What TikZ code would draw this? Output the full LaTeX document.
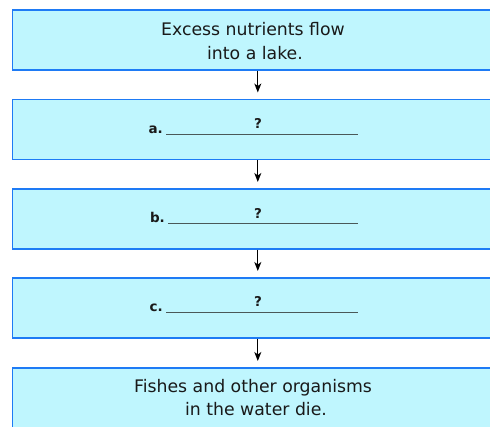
\documentclass[tikz,border=0pt]{standalone}
\usepackage{fontspec}
\setmainfont{DejaVu Sans}
\usetikzlibrary{arrows.meta}
\definecolor{boxfill}{HTML}{BFF6FE}
\definecolor{boxline}{HTML}{1E7BF5}
\definecolor{blankline}{HTML}{4A5858}
\begin{document}
\begin{tikzpicture}[x=1pt,y=-1pt,
  box/.style={draw=boxline, line width=1.6pt, fill=boxfill, minimum width=486pt, minimum height=60pt, inner sep=0pt, anchor=north west},
  txt/.style={font=\fontsize{17.3}{23}\selectfont, anchor=base, inner sep=0pt, text=black!90},
  lbl/.style={font=\fontsize{13.5}{15}\selectfont\bfseries, inner sep=0pt, text=black!90},
  blank/.style={draw=blankline, line width=1.1pt},
  arr/.style={-{Stealth[length=9pt,width=7pt,inset=2.5pt]}, line width=1.1pt, shorten >=6pt}]
\useasboundingbox (0,0) rectangle (490,426);
\clip (0,0) rectangle (490,426);
\node[box] (b1) at (11.5,9) {};
\node[box] (b2) at (11.5,98.5) {};
\node[box] (b3) at (11.5,188) {};
\node[box] (b4) at (11.5,277) {};
\node[box] (b5) at (11.5,367) {};
\node[txt] (t1a) at (253,35.7) {Excess nutrients flow};
\node[txt] (t1b) at (255,59) {into a lake.};
\node[txt] (t5a) at (253,392.7) {Fishes and other organisms};
\node[txt] (t5b) at (256,415) {in the water die.};
\node[lbl, anchor=base east] (la) at (163,133) {a.};
\node[lbl, anchor=base] (qa) at (258,128.5) {?};
\draw[blank] (166,134.3) -- (358,134.3);
\node[lbl, anchor=base east] (lb) at (165,222.5) {b.};
\node[lbl, anchor=base] (qb) at (258,218) {?};
\draw[blank] (168,223.8) -- (358,223.8);
\node[lbl, anchor=base east] (lc) at (163,311.3) {c.};
\node[lbl, anchor=base] (qc) at (258,306.8) {?};
\draw[blank] (166,312.6) -- (358,312.6);
\draw[arr] ([xshift=2.5pt]b1.south) -- ([xshift=2.5pt]b2.north);
\draw[arr] ([xshift=2.5pt]b2.south) -- ([xshift=2.5pt]b3.north);
\draw[arr] ([xshift=2.5pt]b3.south) -- ([xshift=2.5pt]b4.north);
\draw[arr] ([xshift=2.5pt]b4.south) -- ([xshift=2.5pt]b5.north);
\end{tikzpicture}
\end{document}
